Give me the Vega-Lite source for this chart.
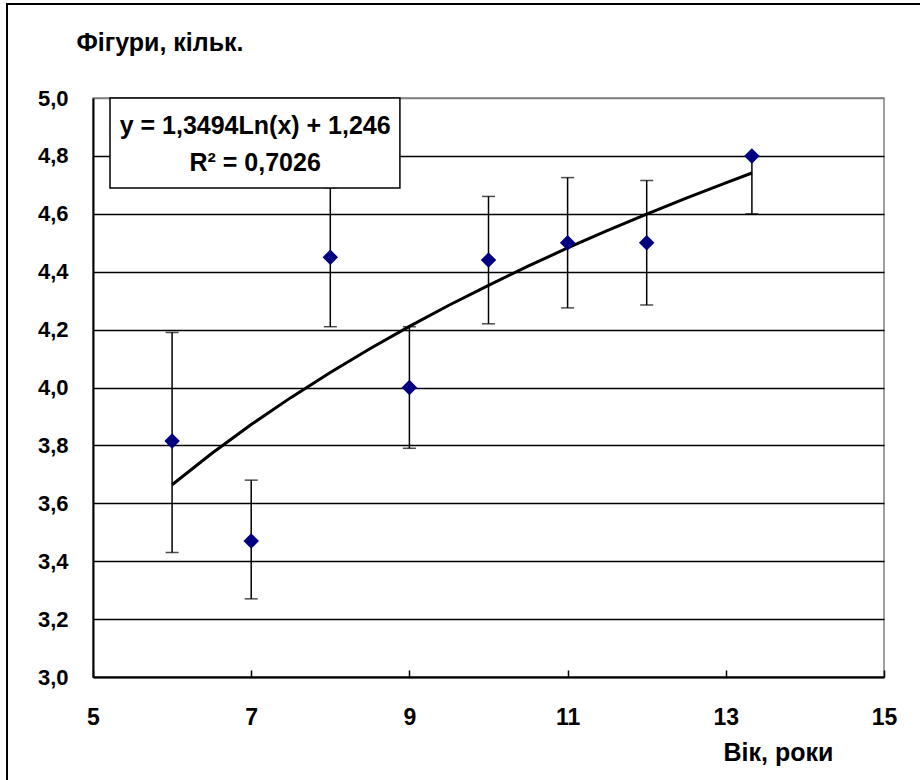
{
  "$schema": "https://vega.github.io/schema/vega-lite/v6.json",
  "autosize": {"type": "none"},
  "width": 791,
  "height": 579,
  "padding": {"left": 93, "top": 98, "right": 36, "bottom": 103},
  "background": "white",
  "config": {
    "font": "Liberation Sans",
    "view": {"stroke": "#808080", "strokeWidth": 1.5}
  },
  "datasets": {
    "obs": [
      {"age": 6, "mean": 3.815, "lo": 3.43, "hi": 4.19},
      {"age": 7, "mean": 3.47, "lo": 3.27, "hi": 3.68},
      {"age": 8, "mean": 4.45, "lo": 4.21, "hi": 4.69},
      {"age": 9, "mean": 4.0, "lo": 3.79, "hi": 4.21},
      {"age": 10, "mean": 4.44, "lo": 4.22, "hi": 4.66},
      {"age": 11, "mean": 4.5, "lo": 4.275, "hi": 4.725},
      {"age": 12, "mean": 4.5, "lo": 4.285, "hi": 4.715},
      {"age": 13.33, "mean": 4.8, "lo": 4.6, "hi": 4.8}
    ],
    "trend": [
      {"age": 6, "fit": 3.664},
      {"age": 6.5, "fit": 3.772},
      {"age": 7, "fit": 3.872},
      {"age": 7.5, "fit": 3.965},
      {"age": 8, "fit": 4.052},
      {"age": 8.5, "fit": 4.134},
      {"age": 9, "fit": 4.211},
      {"age": 9.5, "fit": 4.284},
      {"age": 10, "fit": 4.353},
      {"age": 10.5, "fit": 4.419},
      {"age": 11, "fit": 4.482},
      {"age": 11.5, "fit": 4.542},
      {"age": 12, "fit": 4.599},
      {"age": 12.5, "fit": 4.654},
      {"age": 13, "fit": 4.707},
      {"age": 13.33, "fit": 4.741}
    ],
    "box": [
      {"x1": 5.215, "x2": 8.88, "y1": 4.689, "y2": 5.0}
    ],
    "label": [
      {"x": 7.05, "y": 4.905, "text": "y = 1,3494Ln(x) + 1,246"},
      {"x": 7.05, "y": 4.775, "text": "R² = 0,7026"}
    ],
    "frame": [
      {"x1": 3.913, "x2": 16.5, "y1": 1.5, "y2": 5.325}
    ]
  },
  "layer": [
    {
      "data": {"name": "frame"},
      "mark": {"type": "rect", "fill": null, "stroke": "black", "strokeWidth": 2, "clip": false},
      "encoding": {
        "x": {"field": "x1", "type": "quantitative"},
        "x2": {"field": "x2"},
        "y": {"field": "y1", "type": "quantitative"},
        "y2": {"field": "y2"}
      }
    },
    {
      "data": {"name": "obs"},
      "mark": {"type": "rule", "color": "black", "strokeWidth": 1.5},
      "encoding": {
        "x": {
          "field": "age", "type": "quantitative",
          "scale": {"domain": [5, 15], "nice": false, "zero": false},
          "axis": {
            "values": [5, 7, 9, 11, 13, 15],
            "format": "d",
            "grid": false,
            "domainColor": "black", "domainWidth": 2,
            "tickColor": "black", "tickWidth": 1.5, "tickSize": -7,
            "labelFontSize": 23, "labelFontWeight": "bold", "labelColor": "black",
            "labelPadding": 36, "labelFlush": false,
            "title": "Вік, роки",
            "titleFontSize": 25, "titleFontWeight": "bold", "titleColor": "black",
            "titleAnchor": "start", "titleAlign": "left", "titleBaseline": "middle",
            "titleX": 630, "titleY": 75
          }
        },
        "y": {
          "field": "lo", "type": "quantitative",
          "scale": {"domain": [3, 5], "nice": false, "zero": false},
          "axis": {
            "values": [3, 3.2, 3.4, 3.6, 3.8, 4, 4.2, 4.4, 4.6, 4.8, 5],
            "labelExpr": "replace(format(datum.value, '.1f'), '.', ',')",
            "grid": true,
            "gridColor": {"condition": {"test": "datum.value >= 5", "value": "#808080"}, "value": "black"},
            "gridWidth": 1.3,
            "ticks": false,
            "domainColor": "black", "domainWidth": 2,
            "labelFontSize": 22, "labelFontWeight": "bold", "labelColor": "black",
            "labelPadding": 25,
            "title": "Фігури, кільк.",
            "titleAngle": 0,
            "titleFontSize": 25, "titleFontWeight": "bold", "titleColor": "black",
            "titleAlign": "left", "titleBaseline": "middle",
            "titleX": -17, "titleY": -56
          }
        },
        "y2": {"field": "hi"}
      }
    },
    {
      "data": {"name": "obs"},
      "mark": {"type": "tick", "orient": "horizontal", "color": "black", "size": 13, "thickness": 1.5},
      "encoding": {
        "x": {"field": "age", "type": "quantitative"},
        "y": {"field": "lo", "type": "quantitative"}
      }
    },
    {
      "data": {"name": "obs"},
      "mark": {"type": "tick", "orient": "horizontal", "color": "black", "size": 13, "thickness": 1.5},
      "encoding": {
        "x": {"field": "age", "type": "quantitative"},
        "y": {"field": "hi", "type": "quantitative"}
      }
    },
    {
      "data": {"name": "trend"},
      "mark": {"type": "line", "color": "black", "strokeWidth": 3},
      "encoding": {
        "x": {"field": "age", "type": "quantitative"},
        "y": {"field": "fit", "type": "quantitative"}
      }
    },
    {
      "data": {"name": "obs"},
      "mark": {"type": "point", "shape": "diamond", "filled": true, "color": "#000080", "size": 240, "opacity": 1},
      "encoding": {
        "x": {"field": "age", "type": "quantitative"},
        "y": {"field": "mean", "type": "quantitative"}
      }
    },
    {
      "data": {"name": "box"},
      "mark": {"type": "rect", "fill": "white", "stroke": "black", "strokeWidth": 1.5},
      "encoding": {
        "x": {"field": "x1", "type": "quantitative"},
        "x2": {"field": "x2"},
        "y": {"field": "y1", "type": "quantitative"},
        "y2": {"field": "y2"}
      }
    },
    {
      "data": {"name": "label"},
      "mark": {"type": "text", "font": "Liberation Sans", "fontSize": 25, "fontWeight": "bold", "color": "black", "align": "center", "baseline": "middle"},
      "encoding": {
        "x": {"field": "x", "type": "quantitative"},
        "y": {"field": "y", "type": "quantitative"},
        "text": {"field": "text"}
      }
    }
  ]
}
